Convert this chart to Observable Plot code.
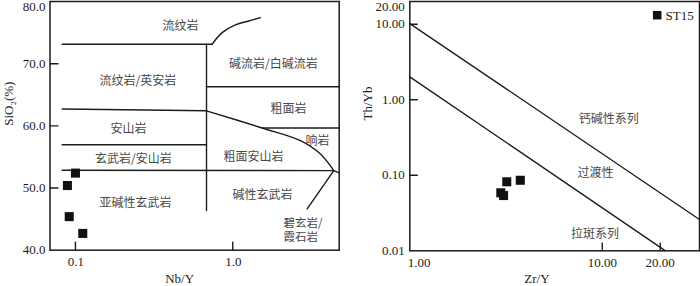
<!DOCTYPE html>
<html><head><meta charset="utf-8">
<script src="https://cdn.jsdelivr.net/npm/d3@7"></script>
<script src="https://cdn.jsdelivr.net/npm/@observablehq/plot@0.6"></script>
<style>
html,body{margin:0;padding:0;background:#fff;}
#wrap{position:relative;width:700px;height:286px;overflow:hidden;}
#left,#right{position:absolute;top:0;}
#left{left:0;} #right{left:350px;}
svg{overflow:visible}
</style></head><body>
<div id="wrap"><div id="left"></div><div id="right"></div></div>
<script>
// ---------- Left panel: Nb/Y vs SiO2 (Winchester & Floyd) ----------
const sampleNbY = [0.100, 0.0889, 0.0913, 0.1113];
const sampleSiO2 = [52.4, 50.4, 45.4, 42.7];

const leftStraight = [
  [[0.0823, 73.13], [0.7396, 73.13]],
  [[0.681, 73.13], [0.681, 46.37]],
  [[0.681, 66.28], [4.75, 66.28]],
  [[0.0823, 62.70], [0.681, 62.42]],
  [[1.538, 59.65], [4.75, 59.65]],
  [[0.0823, 56.97], [0.681, 56.97]],
  [[0.0823, 52.85], [4.387, 52.8]],
  [[4.387, 52.8], [4.75, 52.45]],
  [[4.387, 52.8], [2.972, 46.65]]
];
const leftCurves = [
  [[0.7396, 73.13], [0.856, 74.99], [1.04, 76.23], [1.264, 76.87], [1.5, 77.4]],
  [[0.681, 62.42], [1.538, 59.65], [2.694, 57.61], [3.61, 55.47], [4.387, 52.8]]
];

const leftFieldNames = ["流纹岩", "碱流岩/白碱流岩", "流纹岩/英安岩", "粗面岩", "安山岩", "响岩",
  "玄武岩/安山岩", "粗面安山岩", "亚碱性玄武岩", "碱性玄武岩"];
const leftFieldX = [0.465, 1.814, 0.2495, 2.26, 0.2173, 3.455, 0.2337, 1.354, 0.2406, 1.545];
const leftFieldY = [76.1, 70.0, 67.2, 62.7, 59.5, 57.6, 54.6, 54.9, 47.6, 48.8];
const leftFieldStartNames = ["碧玄岩/\n霞石岩"];
const leftFieldStartX = [2.10];
const leftFieldStartY = [43.3];

const leftXTicks = [0.1, 1];
const leftXTickLabels = ["0.1", "1.0"];
const leftYTicks = [40, 50, 60, 70];
const leftYTickLabels = ["40.0", "50.0", "60.0", "70.0"];
const leftYTopTick = [80];
const leftYTopLabel = ["80.0"];
const leftYInnerTicks = [50, 60, 70];

// ---------- Right panel: Zr/Y vs Th/Yb ----------
const sampleZrY = [3.19, 3.75, 2.97, 3.07];
const sampleThYb = [0.082, 0.0859, 0.0586, 0.0539];

const rightLines = [
  [[1, 10.2], [32, 0.026]],
  [[1, 2.01], [21.3, 0.01]]
];
const rightFieldNames = ["钙碱性系列", "过渡性", "拉斑系列"];
const rightFieldX = [10.79, 9.23, 9.18];
const rightFieldY = [0.556, 0.1075, 0.0166];

const rightXTicks = [10, 20];
const rightXTickLabels = ["10.00", "20.00"];
const rightXFirstTick = [1];
const rightXFirstLabel = ["1.00"];
const rightYTicks = [0.01, 0.1, 1, 10];
const rightYTickLabels = ["0.01", "0.10", "1.00", "10.00"];
const rightYTopTick = [20];
const rightYTopLabel = ["20.00"];
const rightYInnerTicks = [0.1, 1, 10];
const legendLabel = ["ST15"];

// ---------- drawing ----------
const ink = "#1c1c1c";
const serif = "'Liberation Serif', 'Times New Roman', serif";
const cjk = "'Noto Sans CJK SC', sans-serif";
const tickShape = {draw(ctx, l) { ctx.moveTo(0, 0); ctx.lineTo(0, -l); }};
const baseStyle = {fontFamily: serif, fontSize: "13px", color: ink, background: "transparent", overflow: "visible"};
const cjkOpts = {fontFamily: cjk, fontSize: 12, fill: "#484848", letterSpacing: "1.5px"};
const leftNum = {fontSize: 13, letterSpacing: "1px"};
const idx = a => d3.range(a.length);

const left = Plot.plot({
  width: 350, height: 286,
  marginLeft: 49.5, marginRight: 11.3, marginTop: 1, marginBottom: 36.3,
  x: {type: "log", domain: [0.0689, 4.75], axis: null},
  y: {domain: [40, 80], axis: null},
  style: baseStyle,
  marks: [
    ...leftStraight.map(s => Plot.line(s, {x: d => d[0], y: d => d[1], stroke: ink, strokeWidth: 1.4})),
    ...leftCurves.map(s => Plot.line(s, {x: d => d[0], y: d => d[1], stroke: ink, strokeWidth: 1.4, curve: "catmull-rom"})),
    Plot.frame({stroke: ink, strokeWidth: 1.5}),
    Plot.vector(leftXTicks, {x: d => d, frameAnchor: "bottom", rotate: 0, length: 8, anchor: "start", shape: tickShape, stroke: ink, strokeWidth: 1.4}),
    Plot.vector(leftYInnerTicks, {y: d => d, frameAnchor: "left", rotate: 90, length: 8, anchor: "start", shape: tickShape, stroke: ink, strokeWidth: 1.4}),
    Plot.text(leftXTicks, {x: d => d, frameAnchor: "bottom", text: (d, i) => leftXTickLabels[i], dy: 12, dx: 0.5, lineAnchor: "middle", ...leftNum}),
    Plot.text(leftYTicks, {y: d => d, frameAnchor: "left", text: (d, i) => leftYTickLabels[i], textAnchor: "end", dx: -4.5, lineAnchor: "middle", ...leftNum}),
    Plot.text(leftYTopTick, {y: d => d, frameAnchor: "left", text: (d, i) => leftYTopLabel[i], textAnchor: "end", dx: -4.5, dy: 5.5, lineAnchor: "middle", ...leftNum}),
    Plot.text(["Nb/Y"], {frameAnchor: "bottom", dx: -15, dy: 29, lineAnchor: "middle"}),
    Plot.text(["SiO₂(%)"], {frameAnchor: "left", dx: -41.5, dy: 0, rotate: -90, lineAnchor: "middle"}),
    Plot.text(idx(leftFieldNames), {x: i => leftFieldX[i], y: i => leftFieldY[i], text: i => leftFieldNames[i], ...cjkOpts}),
    Plot.text(idx(leftFieldStartNames), {x: i => leftFieldStartX[i], y: i => leftFieldStartY[i], text: i => leftFieldStartNames[i], textAnchor: "start", lineAnchor: "middle", ...cjkOpts, fontSize: 11.5, lineHeight: 1.22}),
    Plot.dot(idx(sampleNbY), {x: i => sampleNbY[i], y: i => sampleSiO2[i], symbol: "square", r: 5.1, fill: "#111", stroke: "none"})
  ]
});
document.getElementById("left").appendChild(left);

const right = Plot.plot({
  width: 350, height: 286,
  marginLeft: 59.3, marginRight: 1, marginTop: 1, marginBottom: 35.7,
  x: {type: "log", domain: [1, 32], axis: null},
  y: {type: "log", domain: [0.01, 20], axis: null},
  style: baseStyle,
  marks: [
    ...rightLines.map(s => Plot.line(s, {x: d => d[0], y: d => d[1], stroke: ink, strokeWidth: 1.4})),
    Plot.frame({stroke: ink, strokeWidth: 1.5}),
    Plot.vector(rightXTicks, {x: d => d, frameAnchor: "bottom", rotate: 0, length: 7.5, anchor: "start", shape: tickShape, stroke: ink, strokeWidth: 1.4}),
    Plot.vector(rightYInnerTicks, {y: d => d, frameAnchor: "left", rotate: 90, length: 7.5, anchor: "start", shape: tickShape, stroke: ink, strokeWidth: 1.4}),
    Plot.text(rightXTicks, {x: d => d, frameAnchor: "bottom", text: (d, i) => rightXTickLabels[i], dy: 12, lineAnchor: "middle"}),
    Plot.text(rightXFirstTick, {x: d => d, frameAnchor: "bottom", text: (d, i) => rightXFirstLabel[i], dy: 12, dx: -2, textAnchor: "start", lineAnchor: "middle"}),
    Plot.text(rightYTicks, {y: d => d, frameAnchor: "left", text: (d, i) => rightYTickLabels[i], textAnchor: "end", dx: -5, lineAnchor: "middle"}),
    Plot.text(rightYTopTick, {y: d => d, frameAnchor: "left", text: (d, i) => rightYTopLabel[i], textAnchor: "end", dx: -5, dy: 5.5, lineAnchor: "middle"}),
    Plot.text(["Zr/Y"], {frameAnchor: "bottom", dx: -17.7, dy: 28.5, lineAnchor: "middle"}),
    Plot.text(["Th/Yb"], {frameAnchor: "left", dx: -41.8, dy: -5.6, rotate: -90, lineAnchor: "middle"}),
    Plot.text(idx(rightFieldNames), {x: i => rightFieldX[i], y: i => rightFieldY[i], text: i => rightFieldNames[i], ...cjkOpts}),
    Plot.dot(idx(sampleZrY), {x: i => sampleZrY[i], y: i => sampleThYb[i], symbol: "square", r: 5.1, fill: "#111", stroke: "none"}),
    Plot.dot(legendLabel, {frameAnchor: "top-right", dx: -42.3, dy: 13.7, symbol: "square", r: 4.8, fill: "#111", stroke: "none"}),
    Plot.text(legendLabel, {frameAnchor: "top-right", dx: -34, dy: 14, textAnchor: "start", lineAnchor: "middle", text: d => d})
  ]
});
document.getElementById("right").appendChild(right);
</script></body></html>
